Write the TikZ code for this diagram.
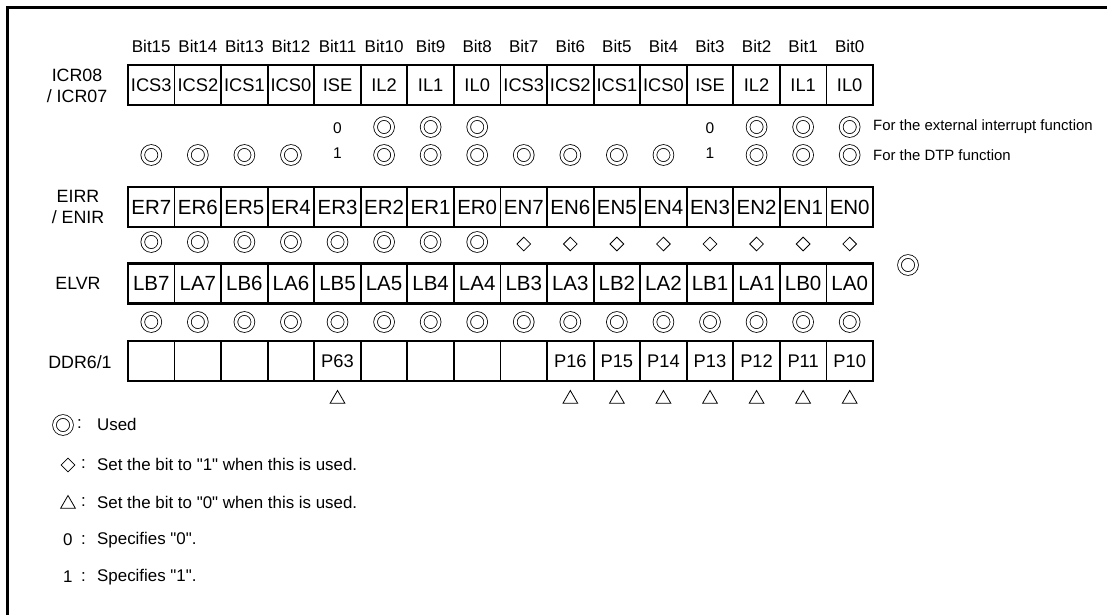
\documentclass[tikz,border=0pt]{standalone}
\usepackage{fontspec}
\setmainfont{Liberation Sans}
\newfontfamily\plainquotefont{Liberation Sans}
\usetikzlibrary{shapes.geometric}
\newcommand{\sq}{{\plainquotefont\char34}}
\begin{document}
\begin{tikzpicture}[x=1pt,y=-1pt,
  cell/.style={draw, line width=1.8pt, minimum width=46.56pt, minimum height=40pt, inner sep=0pt, outer sep=0pt},
  celltxt/.style={font=\fontsize{18.3}{20}\selectfont, text height=13.1pt, text depth=0pt},
  celltxtbig/.style={font=\fontsize{20.5}{22}\selectfont, text height=14.7pt, text depth=0pt},
  rowbox/.style={line width=2.8pt},
  bitlab/.style={font=\fontsize{17}{19}\selectfont, inner sep=0pt, text height=12.2pt, text depth=0pt},
  rowlab/.style={font=\fontsize{17.8}{21.5}\selectfont, align=center, inner sep=0pt},
  used/.style={circle, draw, line width=0.8pt, double, double distance=2.9pt, minimum size=17pt, inner sep=0pt},
  setone/.style={diamond, draw, line width=0.8pt, aspect=1, minimum size=14pt, inner sep=0pt},
  setzero/.style={regular polygon, regular polygon sides=3, draw, line width=0.8pt, minimum size=17pt, inner sep=0pt},
  digit/.style={font=\fontsize{15.5}{17}\selectfont, inner sep=0pt, text height=11pt, text depth=0pt},
  note/.style={font=\fontsize{14.9}{16}\selectfont, anchor=west, inner sep=0pt},
  legtxt/.style={font=\fontsize{16.9}{18}\selectfont, anchor=west, inner sep=0pt},
  frame/.style={line width=2.4pt}
]
\useasboundingbox (0,0) rectangle (1107,615);
% outer frame (left and top edges visible)
\coordinate (fbl) at (7.5,615);
\coordinate (ftl) at (7.5,7.5);
\coordinate (ftr) at (1107,7.5);
\draw[frame] (fbl) -- (ftl) -- (ftr);

% bit labels
\foreach \b [count=\i from 0] in {15,...,0}
  \node[bitlab] (bit\i) at ({128+46.56*(\i+0.5)},46) {Bit\b};

% ICR row
\node[rowlab] (labicr) at (77,86) {ICR08\\/ ICR07};
\foreach \t [count=\i from 0] in {ICS3,ICS2,ICS1,ICS0,ISE,IL2,IL1,IL0,ICS3,ICS2,ICS1,ICS0,ISE,IL2,IL1,IL0}
  \node[cell,celltxt] (icr\i) at ({128+46.56*(\i+0.5)},85) {\t};
\draw[rowbox] (icr0.north west) rectangle (icr15.south east);

% ICR marks: external interrupt function
\foreach \i in {5,6,7,13,14,15}
  \node[used] (ua\i) at ({128+46.56*(\i+0.5)},127) {};
\foreach \i in {4,12}
  \node[digit] (za\i) at ({128+46.56*(\i+0.5)},128) {0};
\node[note] (noteext) at (873,127) {For the external interrupt function};
% ICR marks: DTP function
\foreach \i in {0,1,2,3,5,6,7,8,9,10,11,13,14,15}
  \node[used] (ub\i) at ({128+46.56*(\i+0.5)},155) {};
\foreach \i in {4,12}
  \node[digit] (ob\i) at ({128+46.56*(\i+0.5)},153) {1};
\node[note] (notedtp) at (873,155) {For the DTP function};

% EIRR / ENIR row
\node[rowlab] (labeirr) at (78,207) {EIRR\\/ ENIR};
\foreach \t [count=\i from 0] in {ER7,ER6,ER5,ER4,ER3,ER2,ER1,ER0,EN7,EN6,EN5,EN4,EN3,EN2,EN1,EN0}
  \node[cell,celltxtbig] (eir\i) at ({128+46.56*(\i+0.5)},207) {\t};
\draw[rowbox] (eir0.north west) rectangle (eir15.south east);
\foreach \i in {0,...,7}
  \node[used] (uc\i) at ({128+46.56*(\i+0.5)},242) {};
\foreach \i in {8,...,15}
  \node[setone] (dc\i) at ({128+46.56*(\i+0.5)},244) {};
\node[used] (uextra) at (908,265) {};

% ELVR row
\node[rowlab] (labelvr) at (78,283) {ELVR};
\foreach \t [count=\i from 0] in {LB7,LA7,LB6,LA6,LB5,LA5,LB4,LA4,LB3,LA3,LB2,LA2,LB1,LA1,LB0,LA0}
  \node[cell,celltxtbig] (elv\i) at ({128+46.56*(\i+0.5)},283.5) {\t};
\draw[rowbox] (elv0.north west) rectangle (elv15.south east);
\foreach \i in {0,...,15}
  \node[used] (ud\i) at ({128+46.56*(\i+0.5)},322) {};

% DDR row
\node[rowlab] (labddr) at (80,362) {DDR6/1};
\foreach \t [count=\i from 0] in {{},{},{},{},P63,{},{},{},{},P16,P15,P14,P13,P12,P11,P10}
  \node[cell,celltxt] (ddr\i) at ({128+46.56*(\i+0.5)},361) {\t};
\draw[rowbox] (ddr0.north west) rectangle (ddr15.south east);
\foreach \i in {4,9,10,11,12,13,14,15}
  \node[setzero] (te\i) at ({128+46.56*(\i+0.5)},399) {};

% legend
\node[used] (lgu) at (63,425) {};
\node[legtxt] (lgc1) at (77,424) {:};
\node[legtxt] (lgt1) at (97,424) {Used};
\node[setone] (lgd) at (68,465) {};
\node[legtxt] (lgc2) at (81,464) {:};
\node[legtxt] (lgt2) at (97,464) {Set the bit to \sq1\sq{} when this is used.};
\node[setzero] (lgtr) at (68,504) {};
\node[legtxt] (lgc3) at (81,502) {:};
\node[legtxt] (lgt3) at (97,502) {Set the bit to \sq0\sq{} when this is used.};
\node[legtxt] (lg0) at (63,540) {0};
\node[legtxt] (lgc4) at (81,540) {:};
\node[legtxt] (lgt4) at (97,540) {Specifies \sq0\sq.};
\node[legtxt] (lg1) at (63,577) {1};
\node[legtxt] (lgc5) at (81,577) {:};
\node[legtxt] (lgt5) at (97,577) {Specifies \sq1\sq.};
\end{tikzpicture}
\end{document}
